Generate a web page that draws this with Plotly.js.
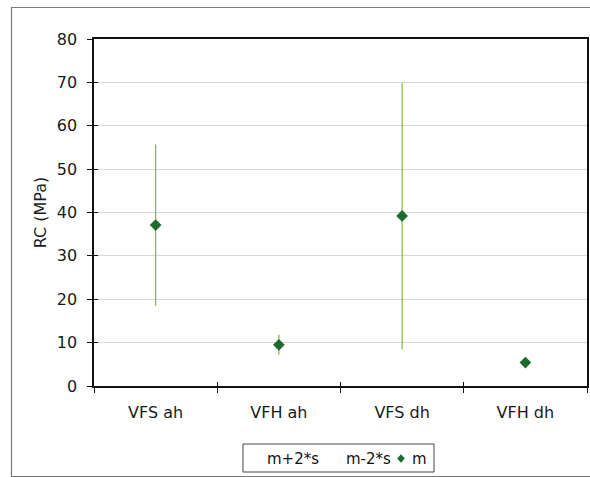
<!DOCTYPE html>
<html>
<head>
<meta charset="utf-8">
<script src="https://cdn.plot.ly/plotly-3.0.1.min.js"></script>
<style>
  html, body { margin: 0; padding: 0; background: #fff; }
  #chart { width: 590px; height: 477px; }
</style>
</head>
<body>
<div id="chart"></div>
<script>
// Compressive strength per specimen group: mean and mean ± 2 standard deviations
const categories = ['VFS ah', 'VFH ah', 'VFS dh', 'VFH dh'];
const meanRC  = [37.1, 9.5, 39.2, 5.4];
const upperRC = [55.7, 11.8, 69.8, 6.4];   // m+2*s
const lowerRC = [18.5, 7.2, 8.5, 4.3];     // m-2*s
const yTicks = [0, 10, 20, 30, 40, 50, 60, 70, 80];
const legendNames = ['m+2*s', 'm-2*s', 'm'];

// Plot area geometry (px)
const W = 590, H = 477;
const M = { l: 94, r: 3, t: 39, b: 91 };
const PW = W - M.l - M.r, PH = H - M.t - M.b;
const px = x => (x - M.l) / PW;
const py = y => (H - M.b - y) / PH;

const FONT = 'DejaVu Sans, Verdana, sans-serif';
const GREEN_LINE = '#8cbc3a';
const GREEN_MARK = '#1d6a30';

// High-low lines joining m-2*s and m+2*s for each group
const hlX = [], hlY = [];
categories.forEach((c, i) => {
  hlX.push(c, c, null);
  hlY.push(lowerRC[i], upperRC[i], null);
});

const traces = [
  {
    x: hlX, y: hlY, type: 'scatter', mode: 'lines',
    line: { color: GREEN_LINE, width: 1.3 },
    hoverinfo: 'skip', showlegend: false
  },
  {
    name: legendNames[0], x: categories, y: upperRC, type: 'scatter', mode: 'markers',
    marker: { size: 1, opacity: 0 }, showlegend: false
  },
  {
    name: legendNames[1], x: categories, y: lowerRC, type: 'scatter', mode: 'markers',
    marker: { size: 1, opacity: 0 }, showlegend: false
  },
  {
    name: legendNames[2], x: categories, y: meanRC, type: 'scatter', mode: 'markers',
    marker: { symbol: 'diamond', size: 9, color: GREEN_MARK },
    showlegend: false
  },
  // companion axes carry the inner half of the cross tick marks
  { x: categories, y: meanRC, xaxis: 'x2', yaxis: 'y2', type: 'scatter', mode: 'markers',
    marker: { opacity: 0 }, hoverinfo: 'skip', showlegend: false }
];

// Legend box drawn as a framed row of entries under the plot
const legBox = { x0: 243, x1: 434, y0: 444, y1: 472 };
const legY = py(458.5);
const annotations = [
  { text: legendNames[0], x: px(265), y: legY },
  { text: legendNames[1], x: px(344), y: legY },
  { text: legendNames[2], x: px(410), y: legY }
].map(a => Object.assign(a, {
  xref: 'paper', yref: 'paper', xanchor: 'left', yanchor: 'middle',
  showarrow: false, font: { family: FONT, size: 15, color: '#111' }
}));

const dx = 3.8, dy = 4.2, cx = 401, cy = 458.5;
const shapes = [
  // outer chart frame
  { type: 'rect', xref: 'paper', yref: 'paper',
    x0: px(11.5), x1: px(600), y0: py(7.5), y1: py(476.5),
    line: { color: '#7a7a7a', width: 1.2 }, layer: 'below' },
  // legend frame
  { type: 'rect', xref: 'paper', yref: 'paper',
    x0: px(legBox.x0), x1: px(legBox.x1), y0: py(legBox.y0), y1: py(legBox.y1),
    line: { color: '#444', width: 1 } },
  // legend marker for m
  { type: 'path', xref: 'paper', yref: 'paper',
    path: `M ${px(cx)} ${py(cy - dy)} L ${px(cx + dx)} ${py(cy)} L ${px(cx)} ${py(cy + dy)} L ${px(cx - dx)} ${py(cy)} Z`,
    fillcolor: GREEN_MARK, line: { width: 0 } }
];

const layout = {
  width: W, height: H,
  margin: M,
  paper_bgcolor: '#fff', plot_bgcolor: '#fff',
  font: { family: FONT, size: 16, color: '#1a1a1a' },
  showlegend: false,
  xaxis: {
    type: 'category', categoryorder: 'array', categoryarray: categories,
    range: [-0.5, 3.5],
    showgrid: false, zeroline: false,
    showline: true, linecolor: '#111', linewidth: 1.6, mirror: true,
    ticks: 'outside', ticklen: 5, tickcolor: '#111', tickson: 'boundaries',
    ticklabelstandoff: 11,
    tickfont: { family: FONT, size: 16, color: '#1a1a1a' }
  },
  yaxis: {
    range: [0, 80], tickvals: yTicks,
    showgrid: true, gridcolor: '#d8d8d8', gridwidth: 1,
    zeroline: false,
    showline: true, linecolor: '#111', linewidth: 1.6, mirror: true,
    ticks: 'outside', ticklen: 5, tickcolor: '#111',
    ticklabelstandoff: 7,
    tickfont: { family: FONT, size: 16, color: '#1a1a1a' },
    title: { text: 'RC (MPa)', standoff: 6, font: { family: FONT, size: 16, color: '#1a1a1a' } }
  },
  xaxis2: {
    type: 'category', categoryorder: 'array', categoryarray: categories,
    overlaying: 'x', matches: 'x', range: [-0.5, 3.5],
    showgrid: false, zeroline: false, showline: false, showticklabels: false,
    ticks: 'inside', ticklen: 4, tickcolor: '#111', tickson: 'boundaries'
  },
  yaxis2: {
    overlaying: 'y', matches: 'y', range: [0, 80], tickvals: yTicks,
    showgrid: false, zeroline: false, showline: false, showticklabels: false,
    ticks: 'inside', ticklen: 4, tickcolor: '#111'
  },
  shapes: shapes,
  annotations: annotations
};

Plotly.newPlot('chart', traces, layout, { displayModeBar: false, staticPlot: true });
</script>
</body>
</html>
